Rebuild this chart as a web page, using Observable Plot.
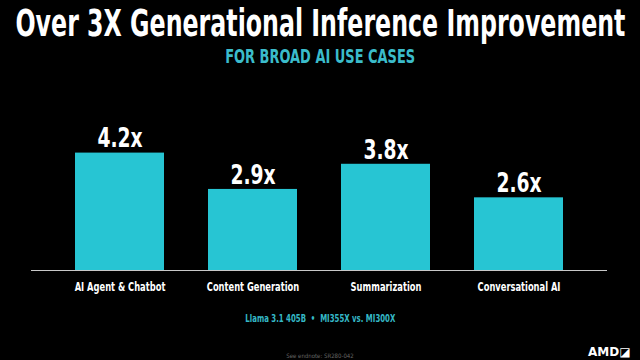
<!DOCTYPE html>
<html>
<head>
<meta charset="utf-8">
<script src="https://cdn.jsdelivr.net/npm/d3@7"></script>
<script src="https://cdn.jsdelivr.net/npm/@observablehq/plot@0.6"></script>
<style>
  html, body { margin: 0; padding: 0; background: #000; }
  #page { width: 640px; height: 360px; position: relative; overflow: hidden; background: #000; font-family: "DejaVu Sans Condensed", "Liberation Sans Narrow", sans-serif; }
  .fit { position: absolute; left: 0; width: 640px; display: flex; justify-content: center; white-space: nowrap; line-height: 1; }
  .fit span { display: inline-block; flex: none; transform-origin: center center; }
  #title { top: 6px; font-size: 36.5px; font-weight: bold; color: #fff; }
  #subtitle { top: 47px; font-size: 19px; font-weight: bold; color: #3bbccb; }
  #chart { position: absolute; left: 0; top: 75px; }
  #foot { top: 313px; font-size: 11px; font-weight: bold; color: #35b8c6; }
  #note { top: 353px; font-size: 6px; color: #666; }
  #logo { position: absolute; left: 588px; top: 345px; font-size: 12px; font-weight: bold; color: #fff; font-family: "DejaVu Sans", sans-serif; }
</style>
</head>
<body>
<div id="page">
  <div id="title" class="fit"><span data-w="610">Over 3X Generational Inference Improvement</span></div>
  <div id="subtitle" class="fit"><span data-w="190">FOR BROAD AI USE CASES</span></div>
  <div id="chart"></div>
  <div id="foot" class="fit"><span data-w="150">Llama 3.1 405B&nbsp;&nbsp;•&nbsp;&nbsp;MI355X vs. MI300X</span></div>
  <div id="note" class="fit"><span>See endnote: SR280-042</span></div>
  <div id="logo">AMD◪</div>
</div>
<script>
const categories = ["AI Agent & Chatbot", "Content Generation", "Summarization", "Conversational AI"];
const speedups = [4.2, 2.9, 3.8, 2.6];
const valueLabels = ["4.2x", "2.9x", "3.8x", "2.6x"];

const data = categories.map((c, i) => ({category: c, value: speedups[i], label: valueLabels[i]}));

const chart = Plot.plot({
  width: 640,
  height: 230,
  marginLeft: 31,
  marginRight: 33,
  marginTop: 53,
  marginBottom: 35,
  style: {background: "#000", color: "#fff", fontFamily: "\"DejaVu Sans Condensed\", sans-serif", overflow: "visible"},
  x: {domain: categories, padding: 0.33, label: null, tickSize: 0, tickPadding: 12},
  y: {domain: [0, 5.08], axis: null},
  marks: [
    Plot.barY(data, {x: "category", y: "value", fill: "#27c5d3"}),
    Plot.ruleY([0], {stroke: "#c8c8c8", strokeWidth: 1.2}),
    Plot.text(data, {x: "category", y: "value", text: "label", dy: -14, fill: "#fff", fontSize: 26, fontWeight: "bold", className: "vlabel"}),
    Plot.axisX({tickSize: 0, tickPadding: 12, fontSize: 12.5, fontWeight: "bold", fill: "#fff", label: null, className: "xlabel"})
  ]
});
document.getElementById("chart").appendChild(chart);

// condense SVG texts to match the narrow typeface of the reference
function condense(sel, k) {
  chart.querySelectorAll(sel).forEach(t => {
    const len = t.getComputedTextLength();
    t.setAttribute("textLength", len * k);
    t.setAttribute("lengthAdjust", "spacingAndGlyphs");
  });
}
condense(".vlabel text", 0.8);
condense(".xlabel text", 0.74);

// fit HTML text widths
document.querySelectorAll(".fit span[data-w]").forEach(s => {
  const w = s.getBoundingClientRect().width;
  const target = +s.dataset.w;
  s.style.transform = `scaleX(${target / w})`;
});
</script>
</body>
</html>
